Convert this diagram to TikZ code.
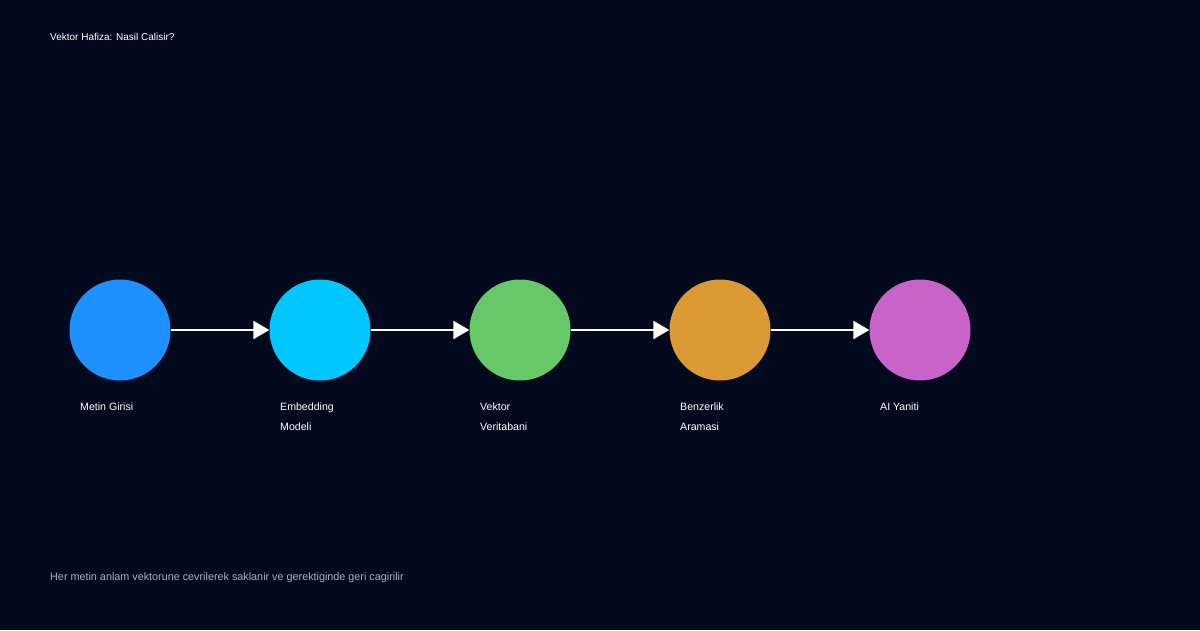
\documentclass[tikz,border=0pt]{standalone}
\usepackage{fontspec}
\setmainfont{Liberation Sans}
\usetikzlibrary{arrows.meta}
\definecolor{bg}{HTML}{030A1E}
\definecolor{cA}{HTML}{1E90FF}
\definecolor{cB}{HTML}{00C8FF}
\definecolor{cC}{HTML}{66C866}
\definecolor{cD}{HTML}{DC9A35}
\definecolor{cE}{HTML}{C864C8}
\definecolor{foot}{HTML}{A8B0C8}
\tikzset{
  stage/.style={circle, minimum size=101pt, inner sep=0pt, draw=none},
  lbl/.style={anchor=base west, text=white, font=\fontsize{10.6}{12}\selectfont, inner sep=0pt},
  conn/.style={draw=white, line width=2.5pt, -{Triangle[length=16pt,width=18pt]}, shorten >=0pt},
}
\begin{document}
\begin{tikzpicture}[x=1pt,y=-1pt]
\fill[bg] (0,0) rectangle (1200,630);
\useasboundingbox (0,0) rectangle (1200,630);
\node[lbl, font=\fontsize{10}{11}\selectfont] (title) at (50,40) {Vektor Hafiza: Nasil Calisir?};
\node[stage, fill=cA] (n1) at (120,330) {};
\node[stage, fill=cB] (n2) at (320,330) {};
\node[stage, fill=cC] (n3) at (520,330) {};
\node[stage, fill=cD] (n4) at (720,330) {};
\node[stage, fill=cE] (n5) at (920,330) {};
\draw[conn] (n1) -- (n2);
\draw[conn] (n2) -- (n3);
\draw[conn] (n3) -- (n4);
\draw[conn] (n4) -- (n5);
\node[lbl] (l1) at (80,410) {Metin Girisi};
\node[lbl] (l2a) at (280,410) {Embedding};
\node[lbl] (l2b) at (280,430) {Modeli};
\node[lbl] (l3a) at (480,410) {Vektor};
\node[lbl] (l3b) at (480,430) {Veritabani};
\node[lbl] (l4a) at (680,410) {Benzerlik};
\node[lbl] (l4b) at (680,430) {Aramasi};
\node[lbl] (l5) at (880,410) {AI Yaniti};
\node[lbl, text=foot, font=\fontsize{10.8}{12}\selectfont] (foot) at (50,580) {Her metin anlam vektorune cevrilerek saklanir ve gerektiginde geri cagirilir};
\end{tikzpicture}
\end{document}
